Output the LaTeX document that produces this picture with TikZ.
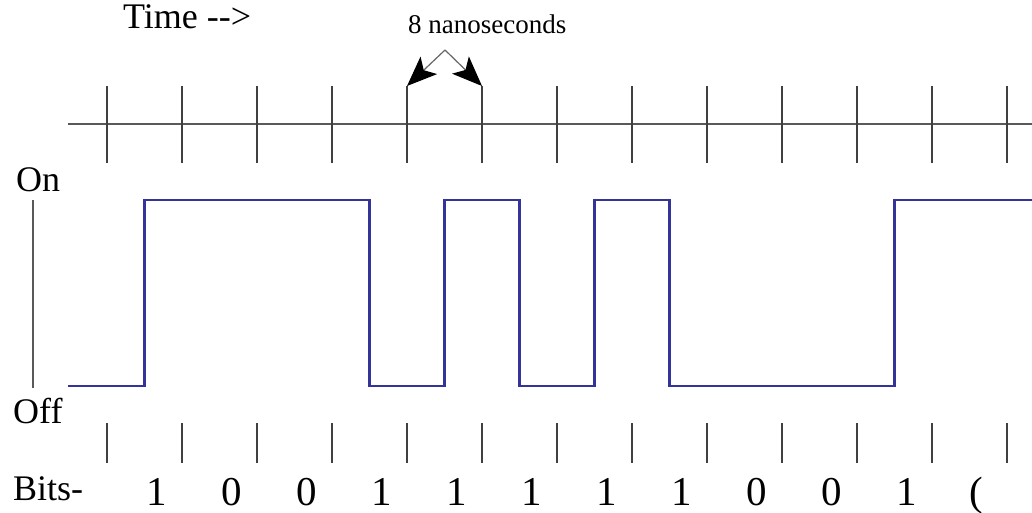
\documentclass[tikz,border=0pt]{standalone}
\usepackage{fontspec}
\setmainfont{Liberation Serif}
\usetikzlibrary{arrows.meta}
\definecolor{sigblue}{HTML}{333399}
\begin{document}
\begin{tikzpicture}[x=1pt,y=-1pt,
  axisline/.style={draw=black!65, line width=2pt},
  tickmark/.style={draw=black!75, line width=1.8pt},
  signal/.style={draw=sigblue, line width=2.5pt, line join=miter},
  lbl/.style={inner sep=0pt, anchor=base west, font=\fontsize{36}{40}\selectfont},
  smalllbl/.style={inner sep=0pt, anchor=base west, font=\fontsize{27}{30}\selectfont},
  bit/.style={inner sep=0pt, anchor=base, font=\fontsize{41}{44}\selectfont},
  dimarrow/.style={draw=black!60, line width=1.2pt, -{Stealth[length=30pt,width=24pt,inset=7pt,black]}}]
\fill[white] (0,0) rectangle (1032,512);
\useasboundingbox (0,0) rectangle (1032,512);

% labels
\node[lbl] (time) at (123,28) {Time \mbox{-}\mbox{-}>};
\node[smalllbl] (ns) at (408,33) {8 nanoseconds};
\node[lbl] (on) at (16,191) {On};
\node[lbl] (off) at (13,423) {Off};
\node[lbl] (bits) at (13,500) {Bits-};

% time axis
\coordinate (axL) at (68,124);
\coordinate (axR) at (1032,124);
\draw[axisline] (axL) -- (axR);

% ticks (top and bottom rows)
\foreach \i in {0,...,12} {
  \pgfmathsetmacro\xx{107+75*\i}
  \coordinate (t\i) at (\xx,86);
  \coordinate (u\i) at (\xx,163);
  \coordinate (p\i) at (\xx,423);
  \coordinate (q\i) at (\xx,463);
  \draw[tickmark] (t\i) -- (u\i);
  \draw[tickmark] (p\i) -- (q\i);
}

% 8 ns arrows
\coordinate (apex) at (445,50);
\draw[dimarrow] (apex) -- (t4);
\draw[dimarrow] (apex) -- (t5);

% on/off axis
\coordinate (onTop) at (33,200);
\coordinate (offBot) at (33,388);
\draw[axisline] (onTop) -- (offBot);

% signal
\draw[signal] (68,386) -| (144.5,200) -| (369.5,386) -| (444.5,200)
  -| (519.5,386) -| (594.5,200) -| (669.5,386) -| (894.5,200) -- (1032,200);

% bits
\foreach \b [count=\i from 0] in {1,0,0,1,1,1,1,1,0,0,1} {
  \node[bit] (bit\i) at (157+75*\i,505) {\b};
}
\node[bit] (bit11) at (976,505) {(};
\end{tikzpicture}
\end{document}
